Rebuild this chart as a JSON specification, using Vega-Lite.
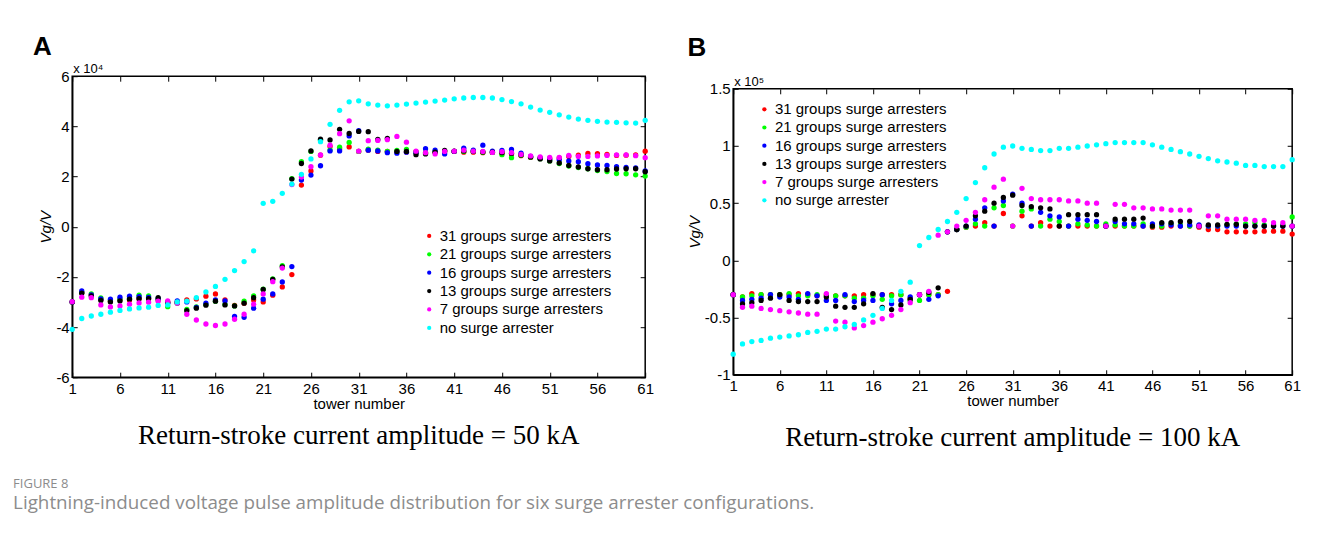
{
  "$schema": "https://vega.github.io/schema/vega-lite/v6.json",
  "background": "white",
  "padding": {"left": 12.2, "top": 33.2, "right": 10, "bottom": 10},
  "spacing": 31,
  "bounds": "full",
  "align": "none",
  "columns": 2,
  "title": {
    "text": "FIGURE 8",
    "subtitle": "Lightning-induced voltage pulse amplitude distribution for six surge arrester configurations.",
    "orient": "bottom",
    "anchor": "start",
    "font": "Open Sans",
    "fontSize": 13,
    "fontWeight": "normal",
    "color": "#8c8c8c",
    "subtitleFont": "Open Sans",
    "subtitleFontSize": 18.8,
    "subtitleColor": "#8c8c8c",
    "subtitlePadding": 3.5,
    "offset": 26,
    "dx": -20
  },
  "resolve": {"scale": {"color": "independent"}, "legend": {"color": "independent"}},
  "concat": [
    {
      "title": {"text": "A", "anchor": "start", "orient": "top", "font": "Liberation Sans", "fontSize": 26, "fontWeight": "bold", "color": "black", "dx": -5, "offset": 2.5},
      "resolve": {"legend": {"color": "independent"}},
      "vconcat": [
        {
          "width": 573,
          "height": 301,
          "title": {"text": "Return-stroke current amplitude = 50 kA", "orient": "bottom", "font": "Liberation Serif", "fontSize": 27, "fontWeight": "normal", "color": "black", "offset": 12},
          "resolve": {"axis": {"x": "independent", "y": "independent"}},
          "layer": [
            {
              "data": {"values": [
                {"t":1,"g31":-3.00,"g21":-3.00,"g16":-3.00,"g13":-3.00,"g7":-2.99,"g0":-4.09},
                {"t":2,"g31":-2.62,"g21":-2.62,"g16":-2.56,"g13":-2.65,"g7":-2.81,"g0":-3.66},
                {"t":3,"g31":-2.72,"g21":-2.68,"g16":-2.72,"g13":-2.76,"g7":-2.83,"g0":-3.56},
                {"t":4,"g31":-2.90,"g21":-2.84,"g16":-2.88,"g13":-2.94,"g7":-3.12,"g0":-3.49},
                {"t":5,"g31":-2.97,"g21":-2.95,"g16":-2.89,"g13":-3.00,"g7":-3.20,"g0":-3.41},
                {"t":6,"g31":-2.92,"g21":-2.90,"g16":-2.81,"g13":-2.96,"g7":-3.16,"g0":-3.34},
                {"t":7,"g31":-2.92,"g21":-2.85,"g16":-2.77,"g13":-2.89,"g7":-3.09,"g0":-3.28},
                {"t":8,"g31":-2.87,"g21":-2.73,"g16":-2.79,"g13":-2.87,"g7":-3.04,"g0":-3.24},
                {"t":9,"g31":-2.86,"g21":-2.76,"g16":-2.82,"g13":-2.87,"g7":-3.01,"g0":-3.21},
                {"t":10,"g31":-2.92,"g21":-2.88,"g16":-2.87,"g13":-2.83,"g7":-2.97,"g0":-3.14},
                {"t":11,"g31":-3.00,"g21":-3.19,"g16":-3.05,"g13":-3.02,"g7":-2.96,"g0":-3.12},
                {"t":12,"g31":-3.01,"g21":-3.05,"g16":-2.96,"g13":-3.03,"g7":-3.05,"g0":-3.00},
                {"t":13,"g31":-2.92,"g21":-3.30,"g16":-3.00,"g13":-3.35,"g7":-3.49,"g0":-2.97},
                {"t":14,"g31":-2.88,"g21":-3.20,"g16":-3.22,"g13":-3.25,"g7":-3.72,"g0":-2.83},
                {"t":15,"g31":-2.77,"g21":-3.10,"g16":-3.05,"g13":-3.13,"g7":-3.88,"g0":-2.60},
                {"t":16,"g31":-2.68,"g21":-2.97,"g16":-2.92,"g13":-2.97,"g7":-3.94,"g0":-2.38},
                {"t":17,"g31":-2.92,"g21":-3.10,"g16":-2.96,"g13":-3.12,"g7":-3.88,"g0":-2.10},
                {"t":18,"g31":-3.14,"g21":-3.16,"g16":-3.58,"g13":-3.16,"g7":-3.69,"g0":-1.75},
                {"t":19,"g31":-3.05,"g21":-2.97,"g16":-3.61,"g13":-3.05,"g7":-3.49,"g0":-1.39},
                {"t":20,"g31":-2.92,"g21":-2.76,"g16":-3.25,"g13":-2.83,"g7":-3.09,"g0":-0.96},
                {"t":21,"g31":-3.00,"g21":-2.49,"g16":-2.89,"g13":-2.50,"g7":-2.68,"g0":0.93},
                {"t":22,"g31":-2.73,"g21":-2.08,"g16":-2.68,"g13":-2.10,"g7":-2.19,"g0":1.01},
                {"t":23,"g31":-2.40,"g21":-1.55,"g16":-2.20,"g13":-1.60,"g7":-1.65,"g0":1.33},
                {"t":24,"g31":-1.91,"g21":1.92,"g16":-1.59,"g13":1.90,"g7":1.68,"g0":1.70},
                {"t":25,"g31":1.66,"g21":2.59,"g16":1.86,"g13":2.52,"g7":1.98,"g0":2.09},
                {"t":26,"g31":2.22,"g21":3.00,"g16":2.06,"g13":3.02,"g7":2.39,"g0":2.70},
                {"t":27,"g31":2.85,"g21":3.45,"g16":2.43,"g13":3.49,"g7":2.86,"g0":3.39},
                {"t":28,"g31":3.20,"g21":3.06,"g16":3.02,"g13":3.46,"g7":3.25,"g0":4.08},
                {"t":29,"g31":3.10,"g21":3.17,"g16":3.02,"g13":3.88,"g7":3.71,"g0":4.64},
                {"t":30,"g31":3.18,"g21":3.36,"g16":3.62,"g13":3.72,"g7":4.22,"g0":4.98},
                {"t":31,"g31":3.00,"g21":3.00,"g16":3.83,"g13":3.80,"g7":3.01,"g0":5.02},
                {"t":32,"g31":3.05,"g21":3.09,"g16":3.05,"g13":3.79,"g7":3.43,"g0":4.90},
                {"t":33,"g31":3.00,"g21":3.05,"g16":3.02,"g13":3.48,"g7":3.44,"g0":4.85},
                {"t":34,"g31":3.00,"g21":3.00,"g16":2.95,"g13":3.52,"g7":3.47,"g0":4.82},
                {"t":35,"g31":3.00,"g21":3.04,"g16":2.93,"g13":3.00,"g7":3.60,"g0":4.85},
                {"t":36,"g31":2.98,"g21":3.08,"g16":2.97,"g13":3.00,"g7":3.37,"g0":4.89},
                {"t":37,"g31":2.99,"g21":2.97,"g16":2.95,"g13":2.87,"g7":3.01,"g0":4.93},
                {"t":38,"g31":2.95,"g21":2.95,"g16":3.11,"g13":2.90,"g7":2.95,"g0":4.97},
                {"t":39,"g31":2.97,"g21":2.98,"g16":3.05,"g13":2.97,"g7":2.90,"g0":5.01},
                {"t":40,"g31":3.00,"g21":3.00,"g16":2.90,"g13":3.04,"g7":3.00,"g0":5.05},
                {"t":41,"g31":3.00,"g21":3.00,"g16":3.00,"g13":3.01,"g7":3.01,"g0":5.10},
                {"t":42,"g31":2.97,"g21":3.00,"g16":3.13,"g13":3.02,"g7":3.05,"g0":5.13},
                {"t":43,"g31":2.97,"g21":3.00,"g16":3.05,"g13":3.00,"g7":3.01,"g0":5.15},
                {"t":44,"g31":2.95,"g21":2.97,"g16":3.25,"g13":2.98,"g7":3.00,"g0":5.15},
                {"t":45,"g31":2.96,"g21":2.96,"g16":3.01,"g13":2.97,"g7":2.96,"g0":5.13},
                {"t":46,"g31":2.93,"g21":2.87,"g16":3.04,"g13":2.95,"g7":2.99,"g0":5.07},
                {"t":47,"g31":2.90,"g21":2.75,"g16":3.08,"g13":2.92,"g7":2.95,"g0":4.99},
                {"t":48,"g31":2.83,"g21":2.85,"g16":2.93,"g13":2.86,"g7":2.88,"g0":4.90},
                {"t":49,"g31":2.76,"g21":2.77,"g16":2.80,"g13":2.78,"g7":2.82,"g0":4.77},
                {"t":50,"g31":2.74,"g21":2.71,"g16":2.74,"g13":2.70,"g7":2.78,"g0":4.65},
                {"t":51,"g31":2.72,"g21":2.62,"g16":2.68,"g13":2.62,"g7":2.76,"g0":4.56},
                {"t":52,"g31":2.74,"g21":2.52,"g16":2.67,"g13":2.54,"g7":2.76,"g0":4.46},
                {"t":53,"g31":2.80,"g21":2.42,"g16":2.62,"g13":2.44,"g7":2.84,"g0":4.37},
                {"t":54,"g31":2.85,"g21":2.36,"g16":2.59,"g13":2.38,"g7":2.80,"g0":4.29},
                {"t":55,"g31":2.92,"g21":2.31,"g16":2.51,"g13":2.31,"g7":2.80,"g0":4.24},
                {"t":56,"g31":2.91,"g21":2.24,"g16":2.46,"g13":2.27,"g7":2.82,"g0":4.20},
                {"t":57,"g31":2.88,"g21":2.20,"g16":2.44,"g13":2.27,"g7":2.84,"g0":4.17},
                {"t":58,"g31":2.84,"g21":2.12,"g16":2.39,"g13":2.30,"g7":2.86,"g0":4.16},
                {"t":59,"g31":2.85,"g21":2.11,"g16":2.36,"g13":2.31,"g7":2.86,"g0":4.14},
                {"t":60,"g31":2.86,"g21":2.07,"g16":2.34,"g13":2.31,"g7":2.83,"g0":4.13},
                {"t":61,"g31":3.01,"g21":2.02,"g16":2.22,"g13":2.19,"g7":2.75,"g0":4.24}
              ]},
              "transform": [{"fold": ["g31", "g21", "g16", "g13", "g7", "g0"], "as": ["series", "value"]}],
              "mark": {"type": "circle", "size": 28, "opacity": 1},
              "encoding": {
                "x": {"field": "t", "type": "quantitative", "scale": {"domain": [1, 61], "nice": false, "zero": false},
                  "axis": {"orient": "bottom", "values": [1,6,11,16,21,26,31,36,41,46,51,56,61], "tickSize": -5, "labelPadding": 9, "labelFontSize": 15, "labelFont": "Liberation Sans", "labelColor": "black", "domainColor": "black", "domainWidth": 1.5, "tickColor": "black", "title": "tower number", "titleFontSize": 15, "titleFont": "Liberation Sans", "titleFontWeight": "normal", "titleColor": "black", "titlePadding": 0, "grid": false, "labelFlush": false}},
                "y": {"field": "value", "type": "quantitative", "scale": {"domain": [-6, 6], "nice": false, "zero": false},
                  "axis": {"orient": "left", "values": [-6,-4,-2,0,2,4,6], "labelExpr": "'' + datum.value", "tickSize": -5, "labelPadding": 8, "labelFontSize": 15, "labelFont": "Liberation Sans", "labelColor": "black", "domainColor": "black", "domainWidth": 1.5, "tickColor": "black", "title": "Vg/V", "titleFontSize": 15, "titleFont": "Liberation Sans", "titleFontWeight": "normal", "titleFontStyle": "italic", "titleColor": "black", "titlePadding": 2, "grid": false, "labelFlush": false}},
                "color": {"field": "series", "type": "nominal",
                  "scale": {"domain": ["g31", "g21", "g16", "g13", "g7", "g0"], "range": ["#ff0000", "#00ff00", "#0000ff", "#000000", "#ff00ff", "#00ffff"]},
                  "legend": {"orient": "none", "legendX": 349.5, "legendY": 152.2, "title": null, "padding": 0, "labelFontSize": 15, "labelFont": "Liberation Sans", "labelColor": "black", "labelLimit": 0, "symbolType": "circle", "symbolSize": 18, "symbolStrokeWidth": 0, "labelOffset": 3, "rowPadding": 2.4,
                    "labelExpr": "datum.value == 'g31' ? '31 groups surge arresters' : datum.value == 'g21' ? '21 groups surge arresters' : datum.value == 'g16' ? '16 groups surge arresters' : datum.value == 'g13' ? '13 groups surge arresters' : datum.value == 'g7' ? '7 groups surge arresters' : 'no surge arrester'"}}
              }
            },
            {
              "data": {"values": [{"label": "x 10⁴"}]},
              "mark": {"type": "text", "align": "left", "baseline": "alphabetic", "dx": 1, "dy": -3, "fontSize": 13, "font": "Liberation Sans", "color": "black"},
              "encoding": {
                "x": {"datum": 1, "type": "quantitative", "axis": {"orient": "top", "values": [1,6,11,16,21,26,31,36,41,46,51,56,61], "labels": false, "tickSize": -5, "tickColor": "black", "domain": false, "title": null, "grid": false}},
                "y": {"datum": 6, "type": "quantitative", "axis": {"orient": "right", "values": [-6,-4,-2,0,2,4,6], "labels": false, "tickSize": -5, "tickColor": "black", "domain": false, "title": null, "grid": false}},
                "text": {"field": "label"}
              }
            }
          ]
        }
      ]
    },
    {
      "title": {"text": "B", "anchor": "start", "orient": "top", "font": "Liberation Sans", "fontSize": 26, "fontWeight": "bold", "color": "black", "dx": 1, "offset": 9.6},
      "resolve": {"legend": {"color": "independent"}},
      "bounds": "flush",
      "spacing": 11.6,
      "vconcat": [
        {
          "width": 559,
          "height": 1,
          "view": {"stroke": null},
          "data": {"values": [{}]},
          "mark": {"type": "text", "text": ""}
        },
        {
          "width": 559,
          "height": 286,
          "title": {"text": "Return-stroke current amplitude = 100 kA", "orient": "bottom", "font": "Liberation Serif", "fontSize": 27, "fontWeight": "normal", "color": "black", "offset": 16},
          "resolve": {"axis": {"x": "independent", "y": "independent"}},
          "layer": [
            {
              "data": {"values": [
                {"t":1,"g31":-0.30,"g21":-0.30,"g16":-0.30,"g13":-0.30,"g7":-0.30,"g0":-0.82},
                {"t":2,"g31":-0.32,"g21":-0.32,"g16":-0.35,"g13":-0.38,"g7":-0.41,"g0":-0.73},
                {"t":3,"g31":-0.29,"g21":-0.31,"g16":-0.34,"g13":-0.37,"g7":-0.40,"g0":-0.71},
                {"t":4,"g31":-0.30,"g21":-0.30,"g16":-0.33,"g13":-0.35,"g7":-0.42,"g0":-0.70},
                {"t":5,"g31":-0.30,"g21":-0.30,"g16":-0.30,"g13":-0.33,"g7":-0.43,"g0":-0.68},
                {"t":6,"g31":-0.30,"g21":-0.30,"g16":-0.32,"g13":-0.30,"g7":-0.44,"g0":-0.67},
                {"t":7,"g31":-0.30,"g21":-0.29,"g16":-0.32,"g13":-0.35,"g7":-0.45,"g0":-0.66},
                {"t":8,"g31":-0.29,"g21":-0.31,"g16":-0.34,"g13":-0.36,"g7":-0.46,"g0":-0.65},
                {"t":9,"g31":-0.30,"g21":-0.31,"g16":-0.29,"g13":-0.36,"g7":-0.47,"g0":-0.63},
                {"t":10,"g31":-0.31,"g21":-0.30,"g16":-0.31,"g13":-0.36,"g7":-0.47,"g0":-0.62},
                {"t":11,"g31":-0.30,"g21":-0.31,"g16":-0.35,"g13":-0.32,"g7":-0.29,"g0":-0.60},
                {"t":12,"g31":-0.31,"g21":-0.31,"g16":-0.35,"g13":-0.40,"g7":-0.53,"g0":-0.60},
                {"t":13,"g31":-0.31,"g21":-0.31,"g16":-0.30,"g13":-0.41,"g7":-0.54,"g0":-0.58},
                {"t":14,"g31":-0.31,"g21":-0.33,"g16":-0.36,"g13":-0.41,"g7":-0.59,"g0":-0.56},
                {"t":15,"g31":-0.30,"g21":-0.33,"g16":-0.35,"g13":-0.38,"g7":-0.57,"g0":-0.52},
                {"t":16,"g31":-0.30,"g21":-0.31,"g16":-0.35,"g13":-0.29,"g7":-0.54,"g0":-0.48},
                {"t":17,"g31":-0.30,"g21":-0.34,"g16":-0.30,"g13":-0.41,"g7":-0.51,"g0":-0.42},
                {"t":18,"g31":-0.30,"g21":-0.31,"g16":-0.38,"g13":-0.43,"g7":-0.48,"g0":-0.35},
                {"t":19,"g31":-0.30,"g21":-0.30,"g16":-0.35,"g13":-0.39,"g7":-0.43,"g0":-0.27},
                {"t":20,"g31":-0.33,"g21":-0.35,"g16":-0.32,"g13":-0.34,"g7":-0.37,"g0":-0.19},
                {"t":21,"g31":-0.30,"g21":-0.35,"g16":-0.30,"g13":-0.30,"g7":-0.30,"g0":0.13},
                {"t":22,"g31":-0.30,"g21":-0.30,"g16":-0.34,"g13":-0.28,"g7":-0.27,"g0":0.20},
                {"t":23,"g31":-0.30,"g21":-0.30,"g16":-0.31,"g13":-0.24,"g7":0.22,"g0":0.27},
                {"t":24,"g31":-0.27,"g21":0.25,"g16":0.25,"g13":0.25,"g7":0.25,"g0":0.34},
                {"t":25,"g31":0.27,"g21":0.27,"g16":0.27,"g13":0.27,"g7":0.30,"g0":0.42},
                {"t":26,"g31":0.29,"g21":0.29,"g16":0.30,"g13":0.30,"g7":0.35,"g0":0.54},
                {"t":27,"g31":0.30,"g21":0.32,"g16":0.36,"g13":0.39,"g7":0.42,"g0":0.68},
                {"t":28,"g31":0.33,"g21":0.30,"g16":0.46,"g13":0.43,"g7":0.53,"g0":0.81},
                {"t":29,"g31":0.30,"g21":0.46,"g16":0.30,"g13":0.50,"g7":0.64,"g0":0.93},
                {"t":30,"g31":0.41,"g21":0.48,"g16":0.52,"g13":0.55,"g7":0.71,"g0":0.99},
                {"t":31,"g31":0.30,"g21":0.30,"g16":0.58,"g13":0.57,"g7":0.30,"g0":1.00},
                {"t":32,"g31":0.39,"g21":0.43,"g16":0.50,"g13":0.48,"g7":0.63,"g0":0.98},
                {"t":33,"g31":0.30,"g21":0.45,"g16":0.30,"g13":0.47,"g7":0.54,"g0":0.97},
                {"t":34,"g31":0.33,"g21":0.30,"g16":0.42,"g13":0.46,"g7":0.53,"g0":0.96},
                {"t":35,"g31":0.30,"g21":0.36,"g16":0.39,"g13":0.45,"g7":0.53,"g0":0.96},
                {"t":36,"g31":0.30,"g21":0.34,"g16":0.38,"g13":0.30,"g7":0.53,"g0":0.98},
                {"t":37,"g31":0.30,"g21":0.30,"g16":0.30,"g13":0.40,"g7":0.52,"g0":0.98},
                {"t":38,"g31":0.30,"g21":0.32,"g16":0.36,"g13":0.40,"g7":0.52,"g0":0.99},
                {"t":39,"g31":0.30,"g21":0.31,"g16":0.35,"g13":0.40,"g7":0.50,"g0":1.00},
                {"t":40,"g31":0.30,"g21":0.30,"g16":0.34,"g13":0.40,"g7":0.50,"g0":1.01},
                {"t":41,"g31":0.30,"g21":0.32,"g16":0.30,"g13":0.30,"g7":0.30,"g0":1.02},
                {"t":42,"g31":0.30,"g21":0.31,"g16":0.34,"g13":0.36,"g7":0.49,"g0":1.03},
                {"t":43,"g31":0.30,"g21":0.30,"g16":0.32,"g13":0.36,"g7":0.49,"g0":1.03},
                {"t":44,"g31":0.30,"g21":0.30,"g16":0.32,"g13":0.36,"g7":0.46,"g0":1.03},
                {"t":45,"g31":0.30,"g21":0.32,"g16":0.30,"g13":0.37,"g7":0.46,"g0":1.03},
                {"t":46,"g31":0.29,"g21":0.30,"g16":0.32,"g13":0.30,"g7":0.45,"g0":1.01},
                {"t":47,"g31":0.29,"g21":0.30,"g16":0.32,"g13":0.33,"g7":0.45,"g0":0.99},
                {"t":48,"g31":0.30,"g21":0.32,"g16":0.31,"g13":0.33,"g7":0.44,"g0":0.97},
                {"t":49,"g31":0.30,"g21":0.31,"g16":0.30,"g13":0.34,"g7":0.44,"g0":0.95},
                {"t":50,"g31":0.30,"g21":0.30,"g16":0.31,"g13":0.34,"g7":0.44,"g0":0.93},
                {"t":51,"g31":0.29,"g21":0.30,"g16":0.31,"g13":0.30,"g7":0.30,"g0":0.91},
                {"t":52,"g31":0.27,"g21":0.30,"g16":0.30,"g13":0.31,"g7":0.39,"g0":0.89},
                {"t":53,"g31":0.27,"g21":0.30,"g16":0.30,"g13":0.31,"g7":0.39,"g0":0.87},
                {"t":54,"g31":0.25,"g21":0.31,"g16":0.30,"g13":0.315,"g7":0.36,"g0":0.86},
                {"t":55,"g31":0.25,"g21":0.32,"g16":0.30,"g13":0.315,"g7":0.36,"g0":0.85},
                {"t":56,"g31":0.25,"g21":0.32,"g16":0.30,"g13":0.30,"g7":0.36,"g0":0.83},
                {"t":57,"g31":0.25,"g21":0.33,"g16":0.30,"g13":0.30,"g7":0.35,"g0":0.83},
                {"t":58,"g31":0.255,"g21":0.31,"g16":0.30,"g13":0.30,"g7":0.35,"g0":0.82},
                {"t":59,"g31":0.255,"g21":0.31,"g16":0.30,"g13":0.30,"g7":0.33,"g0":0.82},
                {"t":60,"g31":0.255,"g21":0.31,"g16":0.30,"g13":0.30,"g7":0.33,"g0":0.82},
                {"t":61,"g31":0.23,"g21":0.38,"g16":0.30,"g13":0.30,"g7":0.30,"g0":0.88}
              ]},
              "transform": [{"fold": ["g31", "g21", "g16", "g13", "g7", "g0"], "as": ["series", "value"]}],
              "mark": {"type": "circle", "size": 28, "opacity": 1},
              "encoding": {
                "x": {"field": "t", "type": "quantitative", "scale": {"domain": [1, 61], "nice": false, "zero": false},
                  "axis": {"orient": "bottom", "values": [1,6,11,16,21,26,31,36,41,46,51,56,61], "tickSize": -5, "labelPadding": 9, "labelFontSize": 15, "labelFont": "Liberation Sans", "labelColor": "black", "domainColor": "black", "domainWidth": 1.5, "tickColor": "black", "title": "tower number", "titleFontSize": 15, "titleFont": "Liberation Sans", "titleFontWeight": "normal", "titleColor": "black", "titlePadding": 0, "grid": false, "labelFlush": false}},
                "y": {"field": "value", "type": "quantitative", "scale": {"domain": [-1, 1.5], "nice": false, "zero": false},
                  "axis": {"orient": "left", "values": [-1,-0.5,0,0.5,1,1.5], "labelExpr": "'' + datum.value", "tickSize": -5, "labelPadding": 8, "labelFontSize": 15, "labelFont": "Liberation Sans", "labelColor": "black", "domainColor": "black", "domainWidth": 1.5, "tickColor": "black", "title": "Vg/V", "titleFontSize": 15, "titleFont": "Liberation Sans", "titleFontWeight": "normal", "titleFontStyle": "italic", "titleColor": "black", "titlePadding": 2, "grid": false, "labelFlush": false}},
                "color": {"field": "series", "type": "nominal",
                  "scale": {"domain": ["g31", "g21", "g16", "g13", "g7", "g0"], "range": ["#ff0000", "#00ff00", "#0000ff", "#000000", "#ff00ff", "#00ffff"]},
                  "legend": {"orient": "none", "legendX": 23.7, "legendY": 13, "title": null, "padding": 0, "labelFontSize": 15, "labelFont": "Liberation Sans", "labelColor": "black", "labelLimit": 0, "symbolType": "circle", "symbolSize": 18, "symbolStrokeWidth": 0, "labelOffset": 3, "rowPadding": 2.2,
                    "labelExpr": "datum.value == 'g31' ? '31 groups surge arresters' : datum.value == 'g21' ? '21 groups surge arresters' : datum.value == 'g16' ? '16 groups surge arresters' : datum.value == 'g13' ? '13 groups surge arresters' : datum.value == 'g7' ? '7 groups surge arresters' : 'no surge arrester'"}}
              }
            },
            {
              "data": {"values": [{"label": "x 10⁵"}]},
              "mark": {"type": "text", "align": "left", "baseline": "alphabetic", "dx": 1, "dy": -3, "fontSize": 13, "font": "Liberation Sans", "color": "black"},
              "encoding": {
                "x": {"datum": 1, "type": "quantitative", "axis": {"orient": "top", "values": [1,6,11,16,21,26,31,36,41,46,51,56,61], "labels": false, "tickSize": -5, "tickColor": "black", "domain": false, "title": null, "grid": false}},
                "y": {"datum": 1.5, "type": "quantitative", "axis": {"orient": "right", "values": [-1,-0.5,0,0.5,1,1.5], "labels": false, "tickSize": -5, "tickColor": "black", "domain": false, "title": null, "grid": false}},
                "text": {"field": "label"}
              }
            }
          ]
        }
      ]
    }
  ],
  "config": {
    "view": {"stroke": "black", "strokeWidth": 1.5},
    "font": "Liberation Sans"
  }
}
